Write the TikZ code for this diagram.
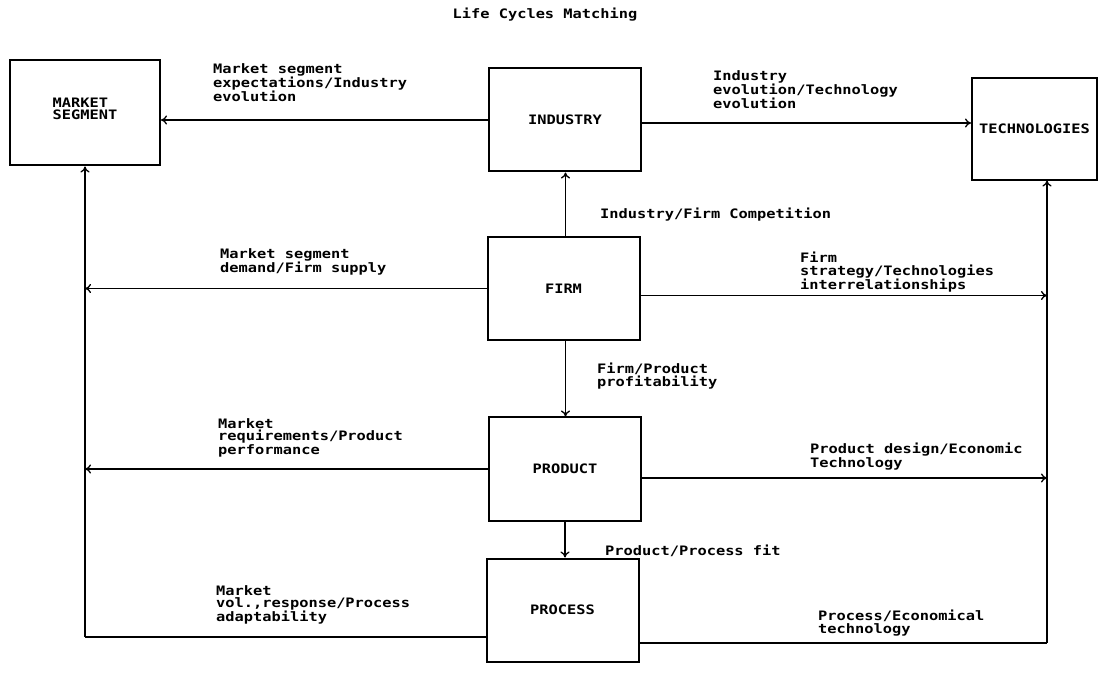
\documentclass[tikz,border=0pt]{standalone}
\usepackage{fontspec}
\usetikzlibrary{arrows.meta}
\newfontfamily\prnfont{DejaVu Sans Mono}[FakeStretch=1.18]
\begin{document}
\begin{tikzpicture}[x=1pt,y=-1pt,
  every node/.style={font=\prnfont\bfseries\fontsize{13pt}{12.5pt}\selectfont},
  unit/.style={draw, line width=2pt, minimum width=#1, inner sep=0pt},
  unitbox/.style={unit=152pt, minimum height=103pt},
  flow/.style={line width=1.8pt, -{To[length=6pt,width=9pt,line width=1.3pt]}},
  plain/.style={line width=1.8pt},
  lbl/.style={anchor=north west, align=left, inner sep=0pt}]
\useasboundingbox (0,0) rectangle (1101,692);

% title
\node (title) at (545,15) {Life Cycles Matching};

% the six units
\node[unit=150pt, minimum height=105pt] (mkt) at (85,113) {};
\node[anchor=north, align=left] (mktlabel) at (85,94) {MARKET\\SEGMENT};
\node[unitbox] (ind) at (565,120) {INDUSTRY};
\node[unit=125pt, minimum height=102pt, align=center] (tech) at (1034.5,129) {TECHNOLOGIES};
\node[unitbox] (firm) at (563.5,288.5) {FIRM};
\node[unitbox] (prod) at (565,469) {PRODUCT};
\node[unitbox] (proc) at (562.5,610) {PROCESS};

% bus lines beside the outer units
\coordinate (rtop) at (1047,180.5);
\coordinate (lbend) at (proc.west |- 0,637);
\coordinate (rbend) at (proc.east |- 0,643);

% industry links
\draw[flow] (ind.west) -- (ind.west -| mkt.east);
\draw[flow] ([yshift=-3pt]ind.east) -- ([yshift=-3pt]ind.east -| tech.west);

% vertical chain
\draw[flow] ([xshift=2pt]firm.north) -- ([xshift=2pt]firm.north |- ind.south);
\draw[flow] ([xshift=2pt]firm.south) -- ([xshift=2pt]firm.south |- prod.north);
\draw[flow] (prod.south) -- (prod.south |- proc.north);

% left bus to the market segment
\draw[plain] (lbend) -- (lbend -| mkt.south) coordinate (lcorner);
\draw[flow] (lcorner) -- (mkt.south);
\draw[flow] (firm.west) -- (firm.west -| mkt.south);
\draw[flow] (prod.west) -- (prod.west -| mkt.south);

% right bus to the technologies
\draw[plain] (rbend) -- (rbend -| rtop) coordinate (rcorner);
\draw[flow] (rcorner) -- (rtop);
\draw[flow] ([yshift=-7pt]firm.east) -- ([yshift=-7pt]firm.east -| rtop);
\draw[flow] ([yshift=-9pt]prod.east) -- ([yshift=-9pt]prod.east -| rtop);

% link labels
\node[lbl] (l1) at (213,63) {Market segment\\expectations/Industry\\evolution};
\node[lbl] (l2) at (713,70) {Industry\\evolution/Technology\\evolution};
\node[lbl] (l3) at (600,208) {Industry/Firm Competition};
\node[lbl] (l4) at (220,248) {Market segment\\demand/Firm supply};
\node[lbl] (l5) at (800,252) {Firm\\strategy/Technologies\\interrelationships};
\node[lbl] (l6) at (597,363) {Firm/Product\\profitability};
\node[lbl] (l7) at (218,418) {Market\\requirements/Product\\performance};
\node[lbl] (l8) at (810,443) {Product design/Economic\\Technology};
\node[lbl] (l9) at (605,545) {Product/Process fit};
\node[lbl] (l10) at (216,585) {Market\\vol.,response/Process\\adaptability};
\node[lbl] (l11) at (818,610) {Process/Economical\\technology};
\end{tikzpicture}
\end{document}
